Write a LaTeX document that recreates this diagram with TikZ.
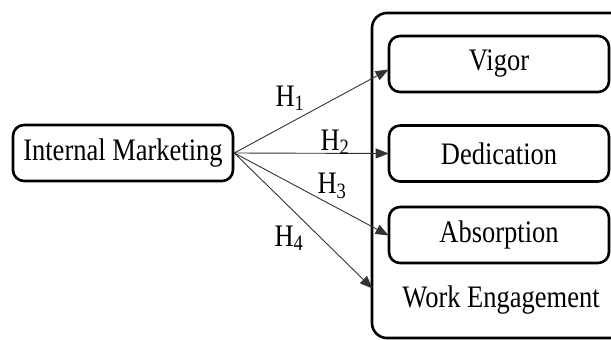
\documentclass[tikz,border=0pt]{standalone}
\usepackage{fontspec}
\setmainfont{Liberation Serif}
\usetikzlibrary{arrows.meta}

% the lettering is set a little taller than wide
\newcommand{\tall}[1]{\scalebox{1}[1.18]{#1}}

\begin{document}
\begin{tikzpicture}[
            x=1pt, y=-1pt,
            every node/.append style={black, font=\fontsize{26.5}{30}\selectfont},
            factor/.style={draw, line width=2.6pt, rounded corners=11pt,
                minimum width=220pt, minimum height=56pt, inner sep=0pt},
            path/.style={draw=black!80, line width=0.9pt,
                -{Triangle[length=13pt,width=10pt]}, shorten >=-1pt}
        ]
            \clip (0,0) rectangle (611,340);
            % outer frame of the dimensions, runs off the right edge
            \draw[line width=2.6pt, rounded corners=15pt] (372,13) rectangle (660,338);

            \node[factor] (im) at (123,153) {\tall{Internal Marketing}};
            \node[factor] (vigor) at (499,64) {\tall{Vigor}};
            \node[factor] (dedication) at (499,153.5) {\tall{Dedication}};
            \node[factor] (absorption) at (499,235) {\tall{Absorption}};
            \node (engagement) at (501,300) {\tall{Work Engagement}};
            \coordinate (frame) at (372,288);

            \draw[path] (im.east) -- ([yshift=-6pt]vigor.west);
            \draw[path] (im.east) -- (dedication.west);
            \draw[path] (im.east) -- (absorption.west);
            \draw[path] (im.east) -- (frame);

            \node (h1) at (290,98) {\tall{H\textsubscript{1}}};
            \node (h2) at (335,142) {\tall{H\textsubscript{2}}};
            \node (h3) at (332,186) {\tall{H\textsubscript{3}}};
            \node (h4) at (289,238) {\tall{H\textsubscript{4}}};
        \end{tikzpicture}
\end{document}
